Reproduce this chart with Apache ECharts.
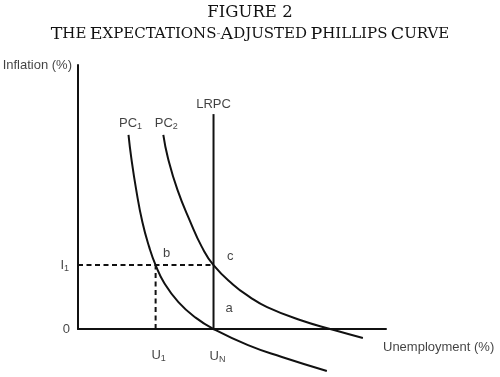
<!DOCTYPE html>
<html>
<head>
<meta charset="utf-8">
<title>Expectations-Adjusted Phillips Curve</title>
<script src="https://cdn.jsdelivr.net/npm/echarts@6/dist/echarts.min.js"></script>
<style>
    html, body { margin: 0; padding: 0; background: #fff; }
    #main { width: 500px; height: 377px; }
</style>
</head>
<body>
<div id="main"></div>
<script type="text/javascript">
    // key levels (chart units, axes run 0..10)
    var UN = 4.4;       // natural rate of unemployment
    var U1 = 2.52;
    var I1 = 2.42;
    var LRPC_TOP = 8.14;

    // short-run Phillips curves
    var pc1 = [[1.64, 7.35], [1.73, 6.48], [1.89, 5.27], [2.09, 4.05], [2.31, 3.11],
               [2.52, 2.42], [2.80, 1.74], [3.26, 1.02], [3.83, 0.42], [4.4, 0],
               [5.52, -0.61], [6.62, -1.06], [8.08, -1.59]];
    var pc2 = [[2.77, 7.35], [2.92, 6.48], [3.23, 5.27], [3.65, 4.05], [4.02, 3.11],
               [4.4, 2.42], [5.03, 1.69], [5.58, 1.21], [6.14, 0.83], [7.21, 0.34],
               [8.28, -0.03], [9.25, -0.34]];

    var ink = '#111';
    var sans = 'Liberation Sans';
    var serif = 'DejaVu Serif';

    var myChart = echarts.init(document.getElementById('main'));

    var rich = {
        n: {fontFamily: sans, fontSize: 13, color: ink},
        s: {fontFamily: sans, fontSize: 9, color: ink, padding: [7, 0, 0, 0]}
    };

    // helper: invisible point that only carries a text label
    function tag(x, y, text, label) {
        return {
            value: [x, y],
            label: Object.assign({show: true, formatter: text, rich: rich,
                fontFamily: sans, fontSize: 13, color: ink}, label)
        };
    }

    function line(data, style, smooth) {
        return {
            type: 'line',
            data: data,
            smooth: smooth || false,
            symbol: 'none',
            clip: false,
            silent: true,
            animation: false,
            lineStyle: Object.assign({color: ink, width: 2}, style)
        };
    }

    option = {
        animation: false,
        title: {
            left: 'center',
            top: -1,
            text: 'FIGURE 2',
            textStyle: {fontFamily: serif, fontSize: 16.5, fontWeight: 'normal', color: ink},
            subtext: '{b|T}{s|HE} {b|E}{s|XPECTATIONS}-{b|A}{s|DJUSTED} {b|P}{s|HILLIPS} {b|C}{s|URVE}',
            itemGap: 4,
            subtextStyle: {
                rich: {
                    b: {fontFamily: serif, fontSize: 17.5, color: ink},
                    s: {fontFamily: serif, fontSize: 15, color: ink}
                }
            }
        },
        grid: {left: 78, right: 114, top: 65, bottom: 48},
        xAxis: {
            type: 'value', min: 0, max: 10,
            axisLine: {show: true, onZero: false, lineStyle: {color: ink, width: 2}},
            axisTick: {show: false}, axisLabel: {show: false}, splitLine: {show: false}
        },
        yAxis: {
            type: 'value', min: 0, max: 10,
            axisLine: {show: true, onZero: false, lineStyle: {color: ink, width: 2}},
            axisTick: {show: false}, axisLabel: {show: false}, splitLine: {show: false}
        },
        series: [
            line([[0, I1], [UN, I1]], {type: [5, 3.5], width: 2}),
            line([[U1, 0], [U1, I1]], {type: [5, 3.5], width: 2}),
            line([[UN, 0], [UN, LRPC_TOP]], {}),
            line(pc1, {}, 0.5),
            line(pc2, {}, 0.5),
            {
                type: 'scatter',
                symbolSize: 0,
                silent: true,
                animation: false,
                clip: false,
                data: [
                    tag(UN, LRPC_TOP, 'LRPC', {position: 'top', distance: 3}),
                    tag(1.64, 7.35, '{n|PC}{s|1}', {position: 'top', distance: 4, offset: [2, 0]}),
                    tag(2.77, 7.35, '{n|PC}{s|2}', {position: 'top', distance: 4, offset: [3, 0]}),
                    tag(2.88, 2.87, 'b', {position: 'inside'}),
                    tag(4.94, 2.74, 'c', {position: 'inside'}),
                    tag(4.91, 0.78, 'a', {position: 'inside'}),
                    tag(0, I1, '{n|I}{s|1}', {position: 'left', distance: 9}),
                    tag(0, 0, '0', {position: 'left', distance: 8}),
                    tag(U1, 0, '{n|U}{s|1}', {position: 'bottom', distance: 18, offset: [3, 0]}),
                    tag(UN, 0, '{n|U}{s|N}', {position: 'bottom', distance: 19, offset: [4, 0]}),
                    tag(10, 0, 'Unemployment (%)', {position: 'right', distance: 5, offset: [-8, 18]}),
                    tag(0, 10, 'Inflation (%)', {position: 'left', distance: 6})
                ]
            }
        ]
    };

    myChart.setOption(option);
</script>
</body>
</html>
